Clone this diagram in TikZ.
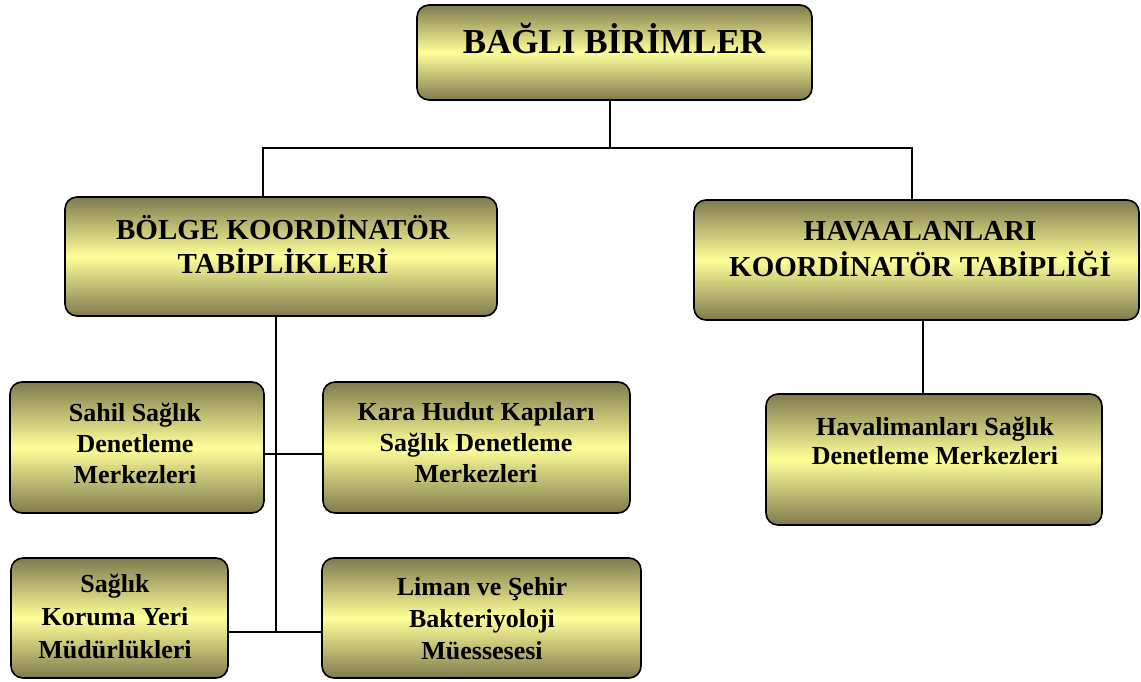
\documentclass[tikz,border=0pt]{standalone}
\usepackage{fontspec}
\setmainfont{Liberation Serif}
\definecolor{boxdark}{RGB}{128,122,78}
\definecolor{boxlight}{RGB}{255,255,153}

\begin{document}
\begin{tikzpicture}[x=1pt,y=-1pt,
    box/.style={draw=black,line width=1.6pt,rounded corners=12pt,
      top color=boxdark,bottom color=boxdark,middle color=boxlight,
      inner sep=0pt,outer sep=0pt},
    lbl/.style={align=center,font=\bfseries\fontsize{26}{31}\selectfont,inner sep=0pt},
    conn/.style={line width=1.3pt}]
  \useasboundingbox (0,0) rectangle (1141,682);
  % boxes
  \node[box,minimum width=395,minimum height=95] (birimler) at (614.5,52.5) {};
  \node[box,minimum width=432,minimum height=119] (bolge) at (281,256.5) {};
  \node[box,minimum width=445,minimum height=120] (havaalan) at (916.5,260) {};
  \node[box,minimum width=254,minimum height=131] (sahil) at (137,447.5) {};
  \node[box,minimum width=307,minimum height=131] (kara) at (476.5,447.5) {};
  \node[box,minimum width=336,minimum height=131] (havalim) at (934,459.5) {};
  \node[box,minimum width=217,minimum height=120] (koruma) at (119.5,618) {};
  \node[box,minimum width=319,minimum height=120] (liman) at (481.5,618) {};
  % texts
  \node[lbl,font=\bfseries\fontsize{35}{40}\selectfont] (birimlerT) at (614,38) {BAĞLI BİRİMLER};
  \node[lbl,font=\bfseries\fontsize{29}{34}\selectfont] (bolgeT) at (283,244) {BÖLGE KOORDİNATÖR\\TABİPLİKLERİ};
  \node[lbl,font=\bfseries\fontsize{29}{36}\selectfont] (havaalanT) at (920,249) {HAVAALANLARI\\KOORDİNATÖR TABİPLİĞİ};
  \node[lbl] (sahilT) at (135,443) {Sahil Sağlık\\Denetleme\\Merkezleri};
  \node[lbl] (karaT) at (476,443) {Kara Hudut Kapıları\\Sağlık Denetleme\\Merkezleri};
  \node[lbl,font=\bfseries\fontsize{26}{29}\selectfont] (havalimT) at (935,441) {Havalimanları Sağlık\\Denetleme Merkezleri};
  \node[lbl,font=\bfseries\fontsize{26}{33}\selectfont] (korumaT) at (115,616) {Sağlık\\Koruma Yeri\\Müdürlükleri};
  \node[lbl,font=\bfseries\fontsize{26}{32}\selectfont] (limanT) at (482,619) {Liman ve Şehir\\Bakteriyoloji\\Müessesesi};
  % connectors
  \coordinate (hub) at (610,148);
  \coordinate (lefthub) at (263,148);
  \coordinate (righthub) at (912,148);
  \coordinate (spine) at (276,632);
  \coordinate (mid) at (276,454);
  \coordinate (hv) at (923,394);
  \draw[conn] (hub |- birimler.south) -- (hub);
  \draw[conn] (lefthub |- bolge.north) -- (lefthub) -- (righthub) -- (righthub |- havaalan.north);
  \draw[conn] (spine |- bolge.south) -- (spine);
  \draw[conn] (mid -| sahil.east) -- (mid -| kara.west);
  \draw[conn] (spine -| koruma.east) -- (spine -| liman.west);
  \draw[conn] (hv |- havaalan.south) -- (hv |- havalim.north);
\end{tikzpicture}
\end{document}
